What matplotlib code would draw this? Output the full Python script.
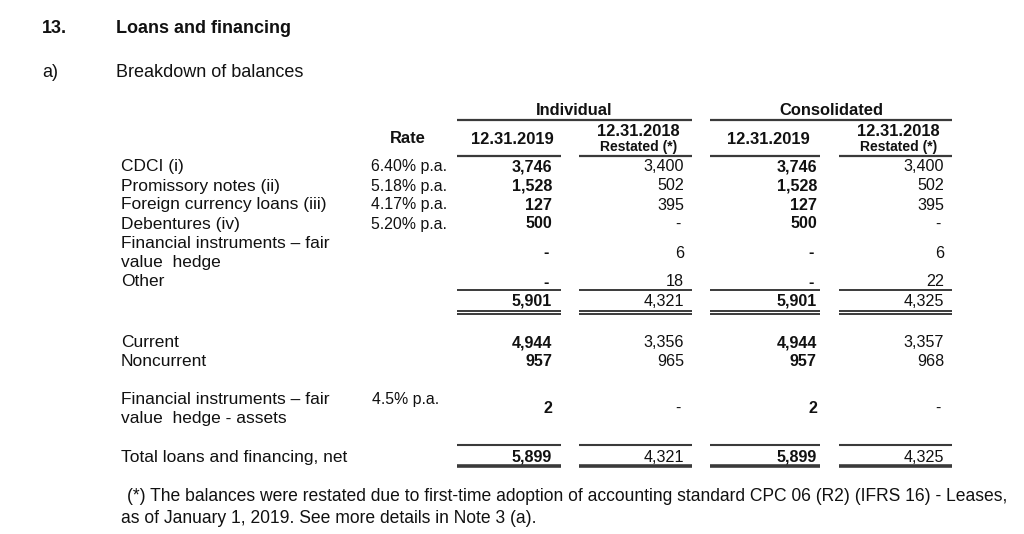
import matplotlib
matplotlib.use("Agg")
import matplotlib.pyplot as plt

plt.rcParams['font.family'] = ['Liberation Sans', 'DejaVu Sans']

# ---- data ----
row_labels = ["CDCI (i)", "Promissory notes (ii)", "Foreign currency loans (iii)",
              "Debentures (iv)", "Financial instruments \u2013 fair\nvalue  hedge", "Other"]
rates = ["6.40% p.a.", "5.18% p.a.", "4.17% p.a.", "5.20% p.a.", "", ""]
ind_2019 = ["3,746", "1,528", "127", "500", "-", "-"]
ind_2018 = ["3,400", "502", "395", "-", "6", "18"]
con_2019 = ["3,746", "1,528", "127", "500", "-", "-"]
con_2018 = ["3,400", "502", "395", "-", "6", "22"]
subtotal = ["5,901", "4,321", "5,901", "4,325"]

split_labels = ["Current", "Noncurrent"]
split_vals = [["4,944", "3,356", "4,944", "3,357"],
              ["957", "965", "957", "968"]]

hedge_label = "Financial instruments \u2013 fair\nvalue  hedge - assets"
hedge_rate = "4.5% p.a."
hedge_vals = ["2", "-", "2", "-"]

total_label = "Total loans and financing, net"
total_vals = ["5,899", "4,321", "5,899", "4,325"]

group_headers = ["Individual", "Consolidated"]
col_dates = ["12.31.2019", "12.31.2018", "12.31.2019", "12.31.2018"]
restated = "Restated (*)"

footnote = ("(*) The balances were restated due to first-time adoption of accounting standard CPC 06 (R2) (IFRS 16) - Leases,\n"
            "as of January 1, 2019. See more details in Note 3 (a).")

# ---- layout ----
fig = plt.figure(figsize=(10.24, 5.34), dpi=100)
ax = fig.add_axes([0, 0, 1, 1])
ax.set_xlim(0, 1024)
ax.set_ylim(534, 0)
ax.axis('off')

LFS = 12.55  # labels
FFS = 12.65  # footnote
NFS = 11.6   # numbers
RFS = 11.4   # rates
HFS = 11.9   # bold headers
SFS = 10.0   # "Restated (*)"
TFS = 13.0   # titles
TXT = '#111111'
LC = '#3a3a3a'
col_right = [552, 684, 817, 944]
col_span = [(457, 561), (579, 692), (710, 820), (839, 952)]
col_bold = [True, False, True, False]
label_x = 121
rate_right = 447

kw = dict(va='baseline', color=TXT)

# titles
ax.text(42, 33, "13.", fontsize=TFS, fontweight='bold', **kw)
ax.text(116, 33, "Loans and financing", fontsize=TFS, fontweight='bold', **kw)
ax.text(42, 77, "a)", fontsize=TFS, **kw)
ax.text(116, 77, "Breakdown of balances", fontsize=TFS, **kw)

# group headers
for name, (a, b) in zip(group_headers, [(457, 692), (710, 952)]):
    ax.text((a + b) / 2, 115, name, fontsize=HFS, fontweight='bold', ha='center', **kw)
    ax.plot([a, b], [119.5, 119.5], color=LC, lw=1.6, solid_capstyle='butt')

ax.text(408, 143, "Rate", fontsize=HFS, fontweight='bold', ha='center', **kw)
for i, d in enumerate(col_dates):
    a, b = col_span[i]
    cx = (a + b) / 2 + 3
    if i % 2 == 0:
        ax.text(cx, 143.5, d, fontsize=HFS, fontweight='bold', ha='center', **kw)
    else:
        ax.text(cx, 135.5, d, fontsize=HFS, fontweight='bold', ha='center', **kw)
        ax.text(cx, 150.5, restated, fontsize=SFS, fontweight='bold', ha='center', **kw)
    ax.plot([a, b], [156, 156], color=LC, lw=1.6, solid_capstyle='butt')


def put_vals(vals, y):
    for i, v in enumerate(vals):
        x = col_right[i] - (3 if v == '-' else 0)
        ax.text(x, y, v, fontsize=NFS, fontweight='bold' if col_bold[i] else 'normal',
                ha='right', **kw)


row_base = [171, 190.5, 209.5, 228.5, 257.5, 286.5]
cols = list(zip(ind_2019, ind_2018, con_2019, con_2018))
for lab, r, vals, y in zip(row_labels, rates, cols, row_base):
    if "\n" in lab:
        l1, l2 = lab.split("\n")
        ax.text(label_x, y - 9, l1, fontsize=LFS, **kw)
        ax.text(label_x, y + 9.5, l2, fontsize=LFS, **kw)
    else:
        ax.text(label_x, y, lab, fontsize=LFS, **kw)
    if r:
        ax.text(rate_right, y, r, fontsize=RFS, ha='right', **kw)
    put_vals(vals, y)

# subtotal
for a, b in col_span:
    ax.plot([a, b], [290, 290], color=LC, lw=1.4, solid_capstyle='butt')
    ax.plot([a, b], [310.5, 310.5], color=LC, lw=1.4, solid_capstyle='butt')
    ax.plot([a, b], [313.5, 313.5], color=LC, lw=1.4, solid_capstyle='butt')
put_vals(subtotal, 305.5)

# current / noncurrent
for lab, vals, y in zip(split_labels, split_vals, [347, 366]):
    ax.text(label_x, y, lab, fontsize=LFS, **kw)
    put_vals(vals, y)

# hedge assets
h1, h2 = hedge_label.split("\n")
ax.text(label_x, 404, h1, fontsize=LFS, **kw)
ax.text(label_x, 423, h2, fontsize=LFS, **kw)
ax.text(372, 404, hedge_rate, fontsize=RFS, ha='left', **kw)
put_vals(hedge_vals, 413)

# total
for a, b in col_span:
    ax.plot([a, b], [445, 445], color=LC, lw=1.5, solid_capstyle='butt')
    ax.plot([a, b], [466, 466], color=LC, lw=2.6, solid_capstyle='butt')
ax.text(label_x, 462, total_label, fontsize=LFS, **kw)
put_vals(total_vals, 462)

# footnote
f1, f2 = footnote.split("\n")
ax.text(127, 501, f1, fontsize=FFS, **kw)
ax.text(121, 523, f2, fontsize=FFS, **kw)

fig.savefig("out.png", dpi=100)
